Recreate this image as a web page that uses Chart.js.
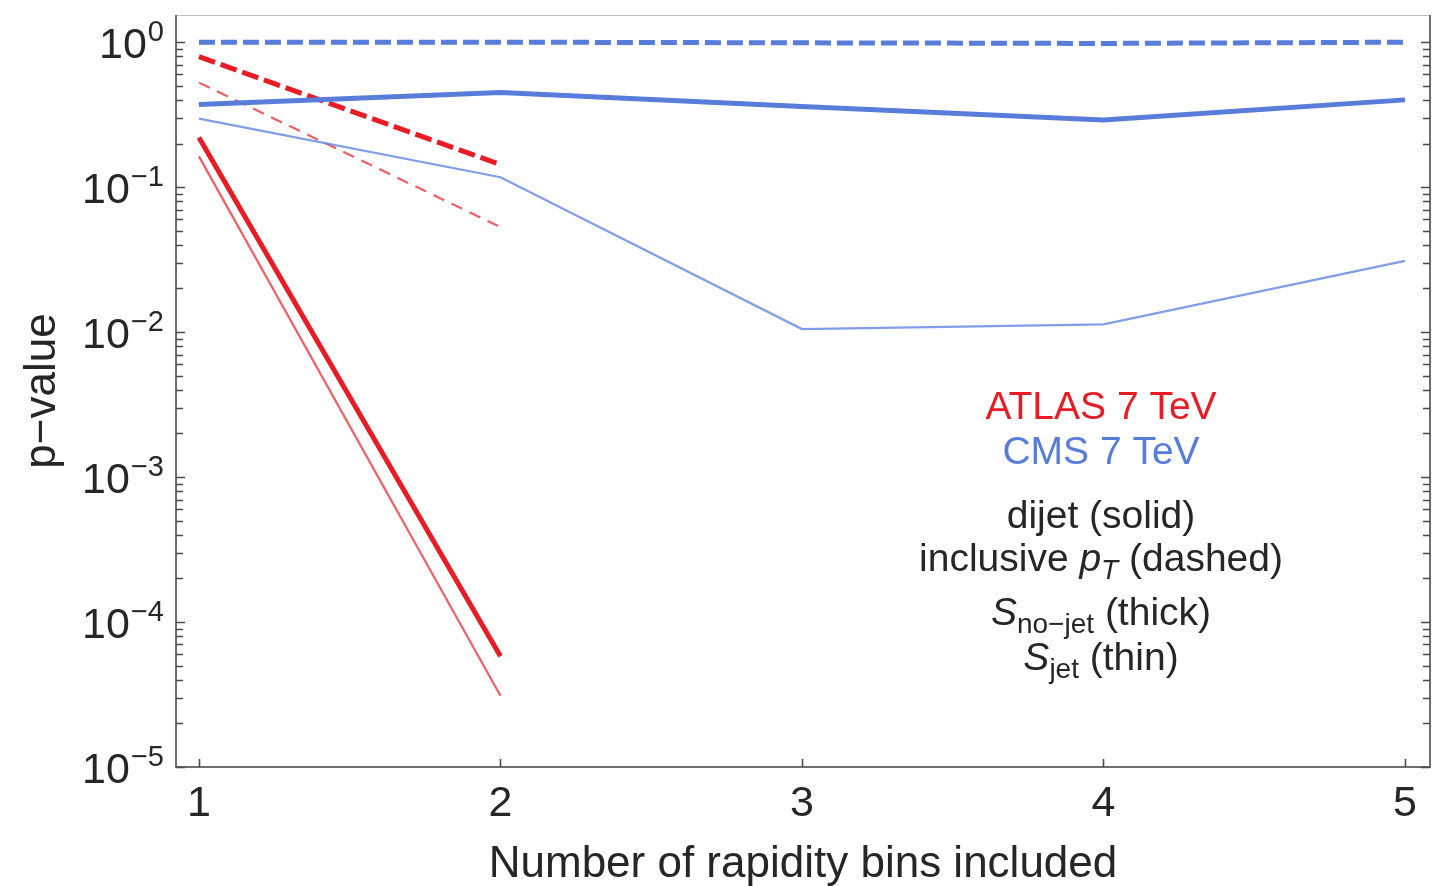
<!DOCTYPE html>
<html>
<head>
<meta charset="utf-8">
<script src="https://cdn.jsdelivr.net/npm/chart.js@4.4.0/dist/chart.umd.min.js"></script>
<style>
    html, body { margin: 0; padding: 0; background: #fff; }
</style>
</head>
<body>
<canvas id="pvalue-chart" width="1444" height="886"></canvas>
<script>
(function() {
    'use strict';

    // Data
    const bins = [1, 2, 3, 4, 5];
    const atlasBins = [1, 2];
    const cmsInclusiveNoJet = [1.0, 1.0, 0.99, 0.98, 1.0];
    const cmsDijetNoJet = [0.372, 0.45, 0.36, 0.29, 0.40];
    const cmsDijetJet = [0.297, 0.117, 0.0105, 0.0113, 0.031];
    const atlasInclusiveNoJet = [0.795, 0.143];
    const atlasInclusiveJet = [0.526, 0.053];
    const atlasDijetNoJet = [0.22, 5.8e-5];
    const atlasDijetJet = [0.163, 3.1e-5];

    const xTickValues = [1, 2, 3, 4, 5];
    const yDecades = [0, -1, -2, -3, -4, -5];

    const RED = 'rgb(232, 28, 36)';
    const RED_THIN = 'rgba(236, 40, 48, 0.75)';
    const BLUE = 'rgb(88, 124, 218)';
    const BLUE_THIN = 'rgba(96, 132, 226, 0.8)';
    const TEXT = '#262626';
    const FONT = '"Liberation Sans", Arial, Helvetica, sans-serif';

    function points(xs, ys) {
        return xs.map((x, i) => ({ x: x, y: ys[i] }));
    }

    function series(xs, ys, color, width, dash) {
        return {
            data: points(xs, ys),
            borderColor: color,
            borderWidth: width,
            borderDash: dash || [],
            borderCapStyle: 'butt',
            pointRadius: 0,
            tension: 0,
            fill: false
        };
    }

    /**
     * Frame, inward ticks, y labels with superscripts and the text key
     */
    const decorations = {
        id: 'decorations',
        beforeDatasetsDraw(chart) {
            const ctx = chart.ctx;
            const a = chart.chartArea;
            const xs = chart.scales.x;
            const ys = chart.scales.y;
            ctx.save();

            // frame
            ctx.lineWidth = 1;
            ctx.strokeStyle = '#bdbdbd';
            ctx.beginPath();
            ctx.moveTo(a.left, a.top + 0.5);
            ctx.lineTo(a.right, a.top + 0.5);
            ctx.stroke();
            ctx.lineWidth = 2;
            ctx.strokeStyle = '#6e6e6e';
            ctx.beginPath();
            ctx.moveTo(a.left, a.top);
            ctx.lineTo(a.left, a.bottom);
            ctx.lineTo(a.right, a.bottom);
            ctx.lineTo(a.right, a.top);
            ctx.stroke();

            // y ticks, both sides
            ctx.lineWidth = 1.6;
            ctx.strokeStyle = '#4a4a4a';
            yDecades.forEach(d => {
                for (let k = 1; k <= 9; k++) {
                    const v = k * Math.pow(10, d);
                    if (v > ys.max || v < ys.min) continue;
                    const py = Math.round(ys.getPixelForValue(v)) + 0.5;
                    const len = k === 1 ? 9 : 7;
                    ctx.beginPath();
                    ctx.moveTo(a.left, py);
                    ctx.lineTo(a.left + len, py);
                    ctx.moveTo(a.right, py);
                    ctx.lineTo(a.right - len, py);
                    ctx.stroke();
                }
            });

            // x ticks
            xTickValues.forEach(v => {
                const px = Math.round(xs.getPixelForValue(v)) + 0.5;
                ctx.beginPath();
                ctx.moveTo(px, a.bottom);
                ctx.lineTo(px, a.bottom - 8);
                ctx.stroke();
            });

            // y tick labels 10^n
            ctx.fillStyle = TEXT;
            ctx.textAlign = 'right';
            ctx.textBaseline = 'alphabetic';
            yDecades.forEach(d => {
                const py = ys.getPixelForValue(Math.pow(10, d));
                const sup = d === 0 ? '0' : '\u2212' + (-d);
                ctx.font = '29px ' + FONT;
                const supW = ctx.measureText(sup).width;
                ctx.fillText(sup, 164, py - 1);
                ctx.font = '43px ' + FONT;
                ctx.fillText('10', 164 - supW - 1, py + 16);
            });

            // y axis title
            ctx.save();
            ctx.translate(43, (a.top + a.bottom) / 2);
            ctx.rotate(-Math.PI / 2);
            ctx.textAlign = 'center';
            ctx.textBaseline = 'middle';
            ctx.font = '44px ' + FONT;
            ctx.fillText('p\u2212value', 0, 0);
            ctx.restore();

            // key text
            const cx = 1101;
            drawRuns(ctx, cx, 419, [{ t: 'ATLAS 7 TeV' }], RED);
            drawRuns(ctx, cx, 464, [{ t: 'CMS 7 TeV' }], BLUE);
            drawRuns(ctx, cx, 528, [{ t: 'dijet (solid)' }], TEXT);
            drawRuns(ctx, cx, 571, [
                { t: 'inclusive ' },
                { t: 'p', it: true },
                { t: 'T', it: true, sub: true },
                { t: ' (dashed)' }
            ], TEXT);
            drawRuns(ctx, cx, 625, [
                { t: 'S', it: true },
                { t: 'no\u2212jet', sub: true },
                { t: ' (thick)' }
            ], TEXT);
            drawRuns(ctx, cx, 670, [
                { t: 'S', it: true },
                { t: 'jet', sub: true },
                { t: ' (thin)' }
            ], TEXT);

            ctx.restore();
        }
    };

    function runFont(r) {
        return (r.it ? 'italic ' : '') + (r.sub ? '28px ' : '39px ') + FONT;
    }

    function drawRuns(ctx, cx, baseline, runs, color) {
        let total = 0;
        runs.forEach(r => {
            ctx.font = runFont(r);
            r.w = ctx.measureText(r.t).width;
            total += r.w;
        });
        let x = cx - total / 2;
        ctx.fillStyle = color;
        ctx.textAlign = 'left';
        ctx.textBaseline = 'alphabetic';
        runs.forEach(r => {
            ctx.font = runFont(r);
            ctx.fillText(r.t, x, r.sub ? baseline + 8 : baseline);
            x += r.w;
        });
    }

    new Chart(document.getElementById('pvalue-chart'), {
        type: 'line',
        data: {
            datasets: [
                series(bins, cmsInclusiveNoJet, BLUE, 5, [16, 6]),
                series(bins, cmsDijetNoJet, BLUE, 5),
                series(bins, cmsDijetJet, BLUE_THIN, 2.2),
                series(atlasBins, atlasInclusiveNoJet, RED, 5, [17, 6]),
                series(atlasBins, atlasInclusiveJet, RED_THIN, 2.2, [12, 8]),
                series(atlasBins, atlasDijetNoJet, RED, 5),
                series(atlasBins, atlasDijetJet, RED_THIN, 2.2)
            ]
        },
        options: {
            responsive: false,
            animation: false,
            devicePixelRatio: 1,
            layout: { padding: { top: 15, right: 14, left: 0, bottom: 0 } },
            plugins: {
                legend: { display: false },
                tooltip: { enabled: false }
            },
            scales: {
                x: {
                    type: 'linear',
                    min: 0.924,
                    max: 5.083,
                    grid: { display: false },
                    border: { display: false },
                    afterBuildTicks: scale => {
                        scale.ticks = xTickValues.map(v => ({ value: v }));
                    },
                    afterFit: scale => { scale.height = 119; },
                    ticks: {
                        padding: 3,
                        color: TEXT,
                        font: { family: FONT, size: 43 },
                        maxRotation: 0,
                        callback: v => String(v)
                    },
                    title: {
                        display: true,
                        text: 'Number of rapidity bins included',
                        color: TEXT,
                        font: { family: FONT, size: 44 },
                        padding: { top: 0, bottom: -5 }
                    }
                },
                y: {
                    type: 'logarithmic',
                    min: 1e-5,
                    max: 1.54,
                    grid: { display: false },
                    border: { display: false },
                    ticks: { display: false },
                    afterFit: scale => { scale.width = 176; }
                }
            }
        },
        plugins: [decorations]
    });
})();
</script>
</body>
</html>
